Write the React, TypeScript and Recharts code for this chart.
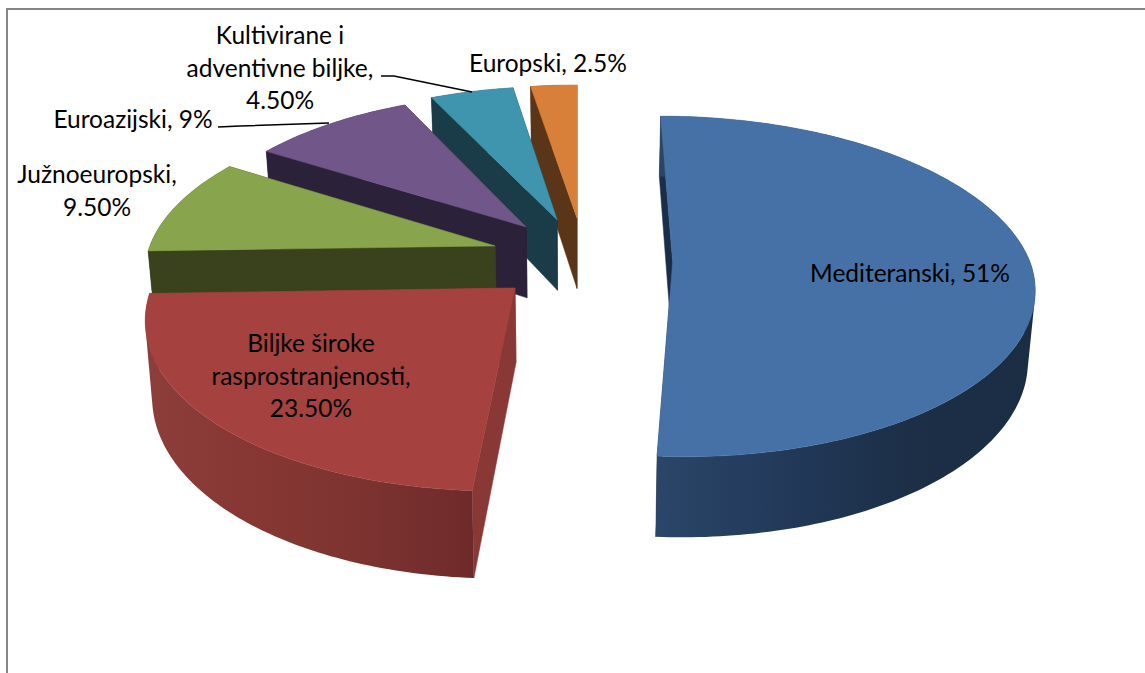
import React from 'react';
import { PieChart, Pie } from 'recharts';

// Listed back-to-front so the library paints the nearest slice last.
const categories = ['Europski', 'Kultivirane i adventivne biljke', 'Euroazijski', 'Južnoeuropski', 'Biljke široke rasprostranjenosti', 'Mediteranski'];
const shares = [2.5, 4.5, 9, 9.5, 23.5, 51];
const rows = categories.map((name, i) => ({ name, value: shares[i] }));

type Look = { ox: number; oy: number; r: number; dz: number; top: string; side: string; rim: string[]; lines: string[]; lx: number; ly: number; leader?: number[][] };
const looks: Record<string, Look> = {
  'Mediteranski': { ox: 0.265, oy: 0, r: 0.99, dz: 69, top: '#4671a6', side: '#1a2d49', rim: ['#2a4668', '#22395a', '#1c2f47', '#1b2d43'], lines: ['Mediteranski, 51%'], lx: 910, ly: 282 },
  'Biljke široke rasprostranjenosti': { ox: -0.166, oy: -0.151, r: 0.985, dz: 73, top: '#a5423f', side: '#893835', rim: ['#8c3e3a', '#873733', '#7c3330', '#6e2a2a'], lines: ['Biljke široke', 'rasprostranjenosti,', '23.50%'], lx: 311, ly: 352 },
  'Južnoeuropski': { ox: -0.23, oy: 0.097, r: 0.97, dz: 73, top: '#88a44d', side: '#39421d', rim: ['#39421d', '#39421d', '#39421d', '#39421d'], lines: ['Južnoeuropski,', '9.50%'], lx: 97, ly: 183 },
  'Euroazijski': { ox: -0.145, oy: 0.214, r: 0.955, dz: 73, top: '#715689', side: '#2b2138', rim: ['#2b2138', '#2b2138', '#2b2138', '#2b2138'], lines: ['Euroazijski, 9%'], lx: 133, ly: 128, leader: [[218, 127], [240, 126], [329, 123]] },
  'Kultivirane i adventivne biljke': { ox: -0.057, oy: 0.259, r: 0.97, dz: 73, top: '#3f95ae', side: '#1a3c48', rim: ['#1a3c48', '#1a3c48', '#1a3c48', '#1a3c48'], lines: ['Kultivirane i', 'adventivne biljke,', '4.50%'], lx: 280, ly: 44, leader: [[381, 76], [394, 76], [472, 92]] },
  'Europski': { ox: 0, oy: 0.27, r: 0.97, dz: 73, top: '#d8803a', side: '#5a3517', rim: ['#5a3517', '#5a3517', '#5a3517', '#5a3517'], lines: ['Europski, 2.5%'], lx: 548, ly: 72 },
};

const HORIZON = -900;
const TILT = 0.145;
const SHRINK = 0.016;
const SHEAR = 0.013;

function Slice3D(props: any) {
  const { cx, cy, outerRadius, startAngle, endAngle, name } = props;
  const look = looks[name];
  const project = (X: number, Y: number, down: number) => {
    const w = 1 + TILT * Y;
    const sheared = X + SHEAR * Math.min(Y, 0);
    const x = cx + (outerRadius * sheared * (1 - SHRINK * down)) / w;
    const y = HORIZON + (cy - HORIZON) / w + (down * look.dz) / w;
    return [x, y];
  };
  const rimPoint = (deg: number, down: number) => {
    const t = ((90 - deg) * Math.PI) / 180;
    return project(look.ox + look.r * Math.sin(t), look.oy + look.r * Math.cos(t), down);
  };
  const a0 = Math.min(startAngle, endAngle);
  const a1 = Math.max(startAngle, endAngle);
  const steps = Math.max(2, Math.ceil(a1 - a0));
  const sweep = (down: number) => Array.from({ length: steps + 1 }, (_, i) => rimPoint(a0 + ((a1 - a0) * i) / steps, down));
  const apexTop = project(look.ox, look.oy, 0);
  const apexLow = project(look.ox, look.oy, 1);
  const d = (pts: number[][]) => 'M' + pts.map((p) => p[0].toFixed(2) + ' ' + p[1].toFixed(2)).join('L') + 'Z';
  const signedArea = (pts: number[][]) => pts.reduce((sum, p, i) => {
    const q = pts[(i + 1) % pts.length];
    return sum + p[0] * q[1] - q[0] * p[1];
  }, 0);
  const upper = sweep(0);
  const lower = sweep(1);
  const band = upper.slice(0, steps).map((p, i) => {
    const quad = [p, upper[i + 1], lower[i + 1], lower[i]];
    return d(signedArea(quad) < 0 ? [...quad].reverse() : quad);
  }).join('');
  const gid = 'rim' + String(name).replace(/[^A-Za-z]/g, '');
  return (
    <g>
      <defs>
        <linearGradient id={gid} x1="0" y1="0" x2="1" y2="0">
          {look.rim.map((c, i) => (
            <stop key={i} offset={i / (look.rim.length - 1)} stopColor={c} />
          ))}
        </linearGradient>
      </defs>
      <path d={d([apexTop, upper[0], lower[0], apexLow])} fill={look.side} stroke={look.side} strokeWidth={0.5} />
      <path d={d([apexTop, upper[steps], lower[steps], apexLow])} fill={look.side} stroke={look.side} strokeWidth={0.5} />
      <path d={band} fill={`url(#${gid})`} fillRule="nonzero" />
      <path d={d([apexTop, ...upper])} fill={look.top} stroke={look.top} strokeWidth={0.5} />
    </g>
  );
}

function SliceLabel(props: any) {
  const look = looks[props.name];
  return (
    <g>
      {look.leader && <polyline points={look.leader.map((p) => p.join(',')).join(' ')} fill="none" stroke="#000" strokeWidth={1.5} />}
      <text x={look.lx} y={look.ly} textAnchor="middle" fontFamily="Lato, Carlito, sans-serif" fontSize={24.5} fill="#000">
        {look.lines.map((line, i) => (
          <tspan key={i} x={look.lx} y={look.ly + i * 32.5}>{line}</tspan>
        ))}
      </text>
    </g>
  );
}

export default function App() {
  return (
    <div style={{ position: 'absolute', left: 0, top: 0, width: 1145, height: 673, overflow: 'hidden', background: '#fff' }}>
      <div style={{ position: 'absolute', left: 6, top: 8, right: 0, bottom: 0, borderTop: '2px solid #858585', borderLeft: '2px solid #858585' }} />
      <div style={{ position: 'absolute', left: 0, top: 0 }}>
        <PieChart width={1145} height={673} margin={{ top: 0, right: 0, bottom: 0, left: 0 }}>
          <Pie
            data={rows}
            dataKey="value"
            nameKey="name"
            cx={577}
            cy={262}
            innerRadius={0}
            outerRadius={361}
            startAngle={90}
            endAngle={450}
            stroke="none"
            isAnimationActive={false}
            shape={Slice3D}
            label={SliceLabel}
            labelLine={false}
          />
        </PieChart>
      </div>
    </div>
  );
}
